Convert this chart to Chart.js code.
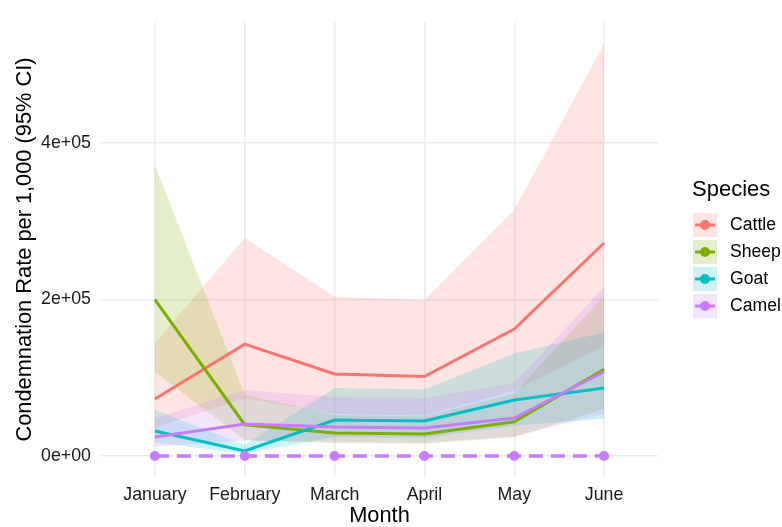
<!DOCTYPE html>
<html>
<head>
<meta charset="utf-8">
<script src="https://cdn.jsdelivr.net/npm/chart.js@4.4.1/dist/chart.umd.min.js"></script>
<style>
  html, body { margin: 0; padding: 0; background: #ffffff; }
  #wrap { position: relative; width: 782px; height: 527px; }
</style>
</head>
<body>
<div id="wrap"><canvas id="c" width="782" height="527"></canvas></div>
<script>
// Monthly condemnation rates per species, with 95% confidence bounds
const months = ['January', 'February', 'March', 'April', 'May', 'June'];
const species = ['Cattle', 'Sheep', 'Goat', 'Camel'];

const cattleRate  = [72800, 143000, 104800, 101600, 162300, 272200];
const cattleUpper = [144000, 278600, 203600, 199400, 314400, 527000];
const cattleLower = [36800, 73400, 53900, 51800, 83800, 140600];

const sheepRate  = [200000, 40000, 29400, 28100, 43800, 110800];
const sheepUpper = [372000, 78400, 52000, 50600, 80000, 204600];
const sheepLower = [107500, 20400, 16600, 15600, 24000, 60000];

const goatRate  = [32000, 6400, 46000, 44700, 71600, 86900];
const goatUpper = [59000, 14000, 87000, 85000, 131000, 158000];
const goatLower = [17400, 2900, 24300, 23500, 39100, 47800];

const camelRate  = [24300, 40900, 37000, 35800, 48500, 107700];
const camelUpper = [48000, 84300, 75400, 74000, 93300, 216000];
const camelLower = [12300, 19800, 18200, 17300, 25200, 53700];

// zero reference markers (dashed, with points)
const camelBaseline = [0, 0, 0, 0, 0, 0];

const yTickValues = [0, 200000, 400000];
const yTickLabels = ['0e+00', '2e+05', '4e+05'];

const speciesColors = ['#F8766D', '#7CAE00', '#00BFC4', '#C77CFF'];
const rates  = [cattleRate, sheepRate, goatRate, camelRate];
const uppers = [cattleUpper, sheepUpper, goatUpper, camelUpper];
const lowers = [cattleLower, sheepLower, goatLower, camelLower];

function hexToRgba(hex, a) {
  const n = parseInt(hex.slice(1), 16);
  return `rgba(${(n >> 16) & 255}, ${(n >> 8) & 255}, ${n & 255}, ${a})`;
}
const toPoints = arr => arr.map((v, i) => ({ x: i, y: v }));

const FONT = "'Liberation Sans', Arial, Helvetica, sans-serif";

const datasets = [];
// confidence ribbons: upper bound filled down to the following (lower) dataset
species.forEach((name, k) => {
  datasets.push({
    label: name + ' upper',
    data: toPoints(uppers[k]),
    borderWidth: 0,
    pointRadius: 0,
    backgroundColor: hexToRgba(speciesColors[k], 0.2),
    fill: '+1',
    tension: 0,
    order: 40 - k
  });
  datasets.push({
    label: name + ' lower',
    data: toPoints(lowers[k]),
    borderWidth: 0,
    pointRadius: 0,
    fill: false,
    tension: 0,
    order: 40 - k
  });
});
// rate lines
species.forEach((name, k) => {
  datasets.push({
    label: name,
    data: toPoints(rates[k]),
    borderColor: speciesColors[k],
    borderWidth: 3,
    pointRadius: 0,
    fill: false,
    tension: 0,
    order: 20 - k
  });
});
// dashed zero line with markers
datasets.push({
  label: 'Camel baseline',
  data: toPoints(camelBaseline),
  borderColor: speciesColors[3],
  borderWidth: 3.5,
  borderDash: [14, 8],
  pointRadius: 5,
  pointBackgroundColor: speciesColors[3],
  pointBorderWidth: 0,
  fill: false,
  tension: 0,
  order: 0
});

// legend drawn to the right of the panel
const speciesLegend = {
  id: 'speciesLegend',
  afterDraw(chart) {
    const ctx = chart.ctx;
    ctx.save();
    ctx.fillStyle = '#000000';
    ctx.textAlign = 'left';
    ctx.textBaseline = 'middle';
    ctx.font = `22px ${FONT}`;
    ctx.fillText('Species', 692, 190);
    const x0 = 693, w = 24, h = 24;
    species.forEach((name, k) => {
      const cy = 225 + k * 27;
      ctx.fillStyle = hexToRgba(speciesColors[k], 0.2);
      ctx.fillRect(x0, cy - h / 2, w, h);
      ctx.strokeStyle = speciesColors[k];
      ctx.lineWidth = 3;
      ctx.beginPath();
      ctx.moveTo(x0 + 2, cy);
      ctx.lineTo(x0 + w - 2, cy);
      ctx.stroke();
      ctx.fillStyle = speciesColors[k];
      ctx.beginPath();
      ctx.arc(x0 + w / 2, cy, 5, 0, Math.PI * 2);
      ctx.fill();
      ctx.fillStyle = '#000000';
      ctx.font = `17.6px ${FONT}`;
      ctx.fillText(name, 730, cy);
    });
    ctx.restore();
  }
};

new Chart(document.getElementById('c'), {
  type: 'line',
  data: { datasets },
  plugins: [speciesLegend],
  options: {
    responsive: false,
    animation: false,
    events: [],
    layout: { padding: { left: 0, top: 22, right: 124, bottom: 0 } },
    plugins: {
      legend: { display: false },
      tooltip: { enabled: false },
      title: { display: false }
    },
    scales: {
      x: {
        type: 'linear',
        min: -0.6,
        max: 5.6,
        afterBuildTicks(scale) {
          scale.ticks = months.map((m, i) => ({ value: i }));
        },
        afterFit(scale) { scale.height = 50; },
        ticks: {
          autoSkip: false,
          maxRotation: 0,
          padding: 7,
          color: '#1a1a1a',
          font: { family: FONT, size: 17.8 },
          callback: v => months[v]
        },
        grid: { color: '#ebebeb', lineWidth: 1.5, drawTicks: false },
        border: { display: false },
        title: {
          display: true,
          text: 'Month',
          color: '#000000',
          font: { family: FONT, size: 21.8, lineHeight: 1 },
          padding: 0
        }
      },
      y: {
        type: 'linear',
        min: -26800,
        max: 554600,
        afterBuildTicks(scale) {
          scale.ticks = yTickValues.map(v => ({ value: v }));
        },
        afterFit(scale) { scale.width = 101; },
        ticks: {
          padding: 10,
          color: '#1a1a1a',
          font: { family: FONT, size: 17.8 },
          callback: v => yTickLabels[yTickValues.indexOf(v)]
        },
        grid: { color: '#ebebeb', lineWidth: 1.5, drawTicks: false },
        border: { display: false },
        title: {
          display: true,
          text: 'Condemnation Rate per 1,000 (95% CI)',
          color: '#000000',
          font: { family: FONT, size: 21.8 },
          padding: { top: 11.5, bottom: 0 }
        }
      }
    }
  }
});
</script>
</body>
</html>
